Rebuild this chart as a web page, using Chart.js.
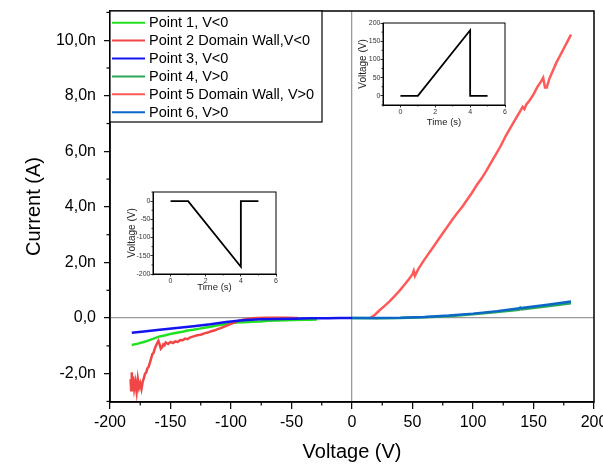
<!DOCTYPE html>
<html>
<head>
<meta charset="utf-8">
<script src="https://cdn.jsdelivr.net/npm/chart.js@4"></script>
<style>
html, body { margin:0; padding:0; background:#fff; overflow:hidden; width:603px; height:468px; }
#wrap { position:relative; width:603px; height:468px; overflow:hidden; }
canvas { position:absolute; }
#main { left:0; top:0; }
#insetUp { left:354px; top:15px; }
#insetDown { left:124px; top:184px; }
</style>
</head>
<body>
<div id="wrap">
  <canvas id="main" width="620" height="468"></canvas>
  <canvas id="insetUp" width="160" height="120"></canvas>
  <canvas id="insetDown" width="160" height="120"></canvas>
</div>
<script>
// values, current in nA
const p1Voltage = [-182, -177, -172, -168, -164, -159, -154, -150, -145, -140, -136, -131, -126, -122, -117, -112, -108, -104, -100, -95, -90, -83, -76, -69, -62, -55, -48, -40, -34, -29];
const p1Current = [-0.97, -0.92, -0.86, -0.80, -0.74, -0.66, -0.62, -0.57, -0.53, -0.49, -0.45, -0.42, -0.38, -0.35, -0.31, -0.27, -0.24, -0.21, -0.18, -0.16, -0.15, -0.13, -0.12, -0.10, -0.09, -0.08, -0.07, -0.06, -0.06, -0.05];

const p2Voltage = [-183, -182.5, -182, -181.5, -181, -180, -179, -178, -177, -176, -175, -174, -173, -172, -171, -170, -169, -168, -167, -166, -165, -164, -163, -162, -161, -160, -159, -158, -157, -156, -155, -154, -152, -150, -148, -146, -144, -142, -140, -138, -136, -134, -131, -128, -125, -122, -119, -117, -114, -111, -108, -104, -100, -97, -94, -90, -86, -82, -78, -72, -66, -60, -54, -48, -45];
const p2Current = [-2.2, -2.6, -1.95, -2.45, -2.1, -2.55, -2.3, -2.65, -2.2, -2.5, -2.35, -2.55, -2.3, -2.15, -2.0, -1.95, -1.8, -1.75, -1.6, -1.45, -1.3, -1.25, -1.1, -1.0, -0.9, -0.82, -0.95, -1.1, -1.05, -0.95, -0.98, -0.88, -0.93, -0.86, -0.9, -0.84, -0.86, -0.79, -0.8, -0.74, -0.76, -0.7, -0.66, -0.62, -0.6, -0.55, -0.52, -0.48, -0.45, -0.4, -0.35, -0.28, -0.21, -0.15, -0.1, -0.06, -0.03, -0.01, 0.0, 0.01, 0.01, 0.01, 0.01, 0.0, 0.0];

const p3Voltage = [-182, -172, -159, -145, -131, -117, -104, -90, -76, -62, -48, -34, -20, -10, 0];
const p3Current = [-0.53, -0.48, -0.42, -0.36, -0.29, -0.22, -0.14, -0.08, -0.04, -0.03, -0.02, -0.01, -0.01, 0.0, 0.0];

const p4Voltage = [0, 20, 40, 60, 80, 100, 120, 138, 139, 140, 160, 181];
const p4Current = [0.0, -0.01, 0.0, 0.03, 0.07, 0.14, 0.22, 0.3, 0.37, 0.31, 0.42, 0.53];

const p5Voltage = [15, 19, 23, 27, 31, 35, 39, 43, 47, 50, 51, 52, 55, 59, 63, 67, 71, 75, 79, 83, 87, 91, 95, 99, 103, 107, 111, 115, 119, 123, 127, 131, 135, 139, 141, 142.5, 144, 147, 150, 153, 156, 158, 159.5, 161, 163, 166, 169, 172, 175, 178, 181];
const p5Current = [0.0, 0.12, 0.29, 0.44, 0.6, 0.78, 0.97, 1.18, 1.4, 1.58, 1.7, 1.52, 1.78, 2.05, 2.3, 2.55, 2.8, 3.05, 3.3, 3.55, 3.78, 4.0, 4.25, 4.5, 4.78, 5.02, 5.3, 5.6, 5.9, 6.2, 6.55, 6.85, 7.15, 7.45, 7.6, 7.52, 7.68, 7.85, 8.05, 8.3, 8.5, 8.65, 8.3, 8.3, 8.6, 8.9, 9.2, 9.45, 9.7, 9.95, 10.2];

const p6Voltage = [0, 20, 40, 60, 80, 100, 120, 140, 160, 181];
const p6Current = [0.0, 0.0, 0.01, 0.04, 0.09, 0.16, 0.25, 0.36, 0.47, 0.6];

const seriesLabels = ['Point 1, V<0', 'Point 2 Domain Wall,V<0', 'Point 3, V<0', 'Point 4, V>0', 'Point 5 Domain Wall, V>0', 'Point 6, V>0'];
const seriesColors = ['#22e022', '#f04646', '#1414f0', '#2ca85a', '#ff5a5a', '#0a66c8'];

const xMajorTicks = [-200, -150, -100, -50, 0, 50, 100, 150, 200];
const xMinorTicks = [-175, -125, -75, -25, 25, 75, 125, 175];
const yMajorTicks = [-2, 0, 2, 4, 6, 8, 10];
const yMinorTicks = [-3, -1, 1, 3, 5, 7, 9, 11];

// inset pulse shapes
const pulseTime = [0, 1, 4, 4, 5];
const pulseVoltsUp = [0, 0, 180, 0, 0];
const pulseVoltsDown = [0, 0, -180, 0, 0];
const insetTimeTicks = [0, 2, 4, 6];
const insetTimeMinor = [-1, 1, 3, 5];
const insetUpTicks = [0, 50, 100, 150, 200];
const insetUpMinor = [-25, 25, 75, 125, 175];
const insetDownTicks = [-200, -150, -100, -50, 0];
const insetDownMinor = [-175, -125, -75, -25, 25];

const FONT = "'Liberation Sans', Arial, sans-serif";
Chart.defaults.color = '#000';
Chart.defaults.font.family = FONT;

function toPoints(xs, ys) {
    return xs.map(function (x, i) { return { x: x, y: ys[i] }; });
}

function fmtCurrent(v) {
    if (v === 0) return '0,0';
    return v.toFixed(1).replace('.', ',') + 'n';
}

// box around the plot area
const frameBox = {
    id: 'frameBox',
    afterDatasetsDraw(chart, args, opts) {
        const a = chart.chartArea;
        const ctx = chart.ctx;
        ctx.save();
        ctx.strokeStyle = '#000';
        ctx.lineWidth = opts.width || 1.5;
        ctx.strokeRect(a.left, a.top, a.right - a.left, a.bottom - a.top);
        ctx.restore();
    }
};

// short ticks between the labelled ones
const minorTicks = {
    id: 'minorTicks',
    afterDraw(chart, args, opts) {
        const ctx = chart.ctx;
        ctx.save();
        ctx.strokeStyle = '#000';
        ctx.lineWidth = opts.width || 1;
        (opts.axes || []).forEach(function (ax) {
            const s = chart.scales[ax.id];
            ax.values.forEach(function (v) {
                const p = s.getPixelForValue(v);
                ctx.beginPath();
                if (s.isHorizontal()) {
                    ctx.moveTo(p, s.top);
                    ctx.lineTo(p, s.top + ax.len);
                } else {
                    ctx.moveTo(s.right, p);
                    ctx.lineTo(s.right - ax.len, p);
                }
                ctx.stroke();
            });
        });
        ctx.restore();
    }
};

// boxed legend in the top left corner of the plot
const boxLegend = {
    id: 'boxLegend',
    afterDraw(chart, args, opts) {
        if (!opts.show) return;
        const a = chart.chartArea;
        const ctx = chart.ctx;
        ctx.save();
        ctx.strokeStyle = '#000';
        ctx.lineWidth = 1.2;
        ctx.fillStyle = '#fff';
        ctx.fillRect(a.left, a.top, 212, 111);
        ctx.strokeRect(a.left, a.top, 212, 111);
        ctx.font = '14.5px ' + FONT;
        ctx.textBaseline = 'middle';
        ctx.textAlign = 'left';
        chart.data.datasets.forEach(function (ds, i) {
            const y = a.top + 11.7 + i * 17.9;
            ctx.strokeStyle = ds.borderColor;
            ctx.lineWidth = 2;
            ctx.beginPath();
            ctx.moveTo(a.left + 2, y);
            ctx.lineTo(a.left + 35, y);
            ctx.stroke();
            ctx.fillStyle = '#000';
            ctx.fillText(ds.label, a.left + 39, y + 0.5);
        });
        ctx.restore();
    }
};

const seriesData = [
    toPoints(p1Voltage, p1Current),
    toPoints(p2Voltage, p2Current),
    toPoints(p3Voltage, p3Current),
    toPoints(p4Voltage, p4Current),
    toPoints(p5Voltage, p5Current),
    toPoints(p6Voltage, p6Current)
];
const drawOrder = [3, 2, 0, 4, 2, 1];

const datasets = seriesData.map(function (pts, i) {
    return {
        label: seriesLabels[i],
        data: pts,
        showLine: true,
        borderColor: seriesColors[i],
        backgroundColor: seriesColors[i],
        borderWidth: 2.5,
        pointRadius: 0,
        order: drawOrder[i]
    };
});

new Chart(document.getElementById('main'), {
    type: 'scatter',
    data: { datasets: datasets },
    options: {
        responsive: false,
        animation: false,
        events: [],
        layout: { padding: { left: 18, top: 11, right: 26, bottom: 0 } },
        plugins: {
            legend: { display: false },
            tooltip: { enabled: false },
            frameBox: { width: 1.5 },
            boxLegend: { show: true },
            minorTicks: {
                width: 1.2,
                axes: [
                    { id: 'x', values: xMinorTicks, len: 3.5 },
                    { id: 'y', values: yMinorTicks, len: 3.5 }
                ]
            }
        },
        scales: {
            x: {
                type: 'linear',
                min: -200,
                max: 200,
                afterBuildTicks: function (s) { s.ticks = xMajorTicks.map(function (v) { return { value: v }; }); },
                afterFit: function (s) { s.height = 66; },
                ticks: {
                    font: { size: 16 },
                    color: '#000',
                    padding: 4,
                    maxRotation: 0,
                    autoSkip: false,
                    callback: function (v) { return String(v); }
                },
                grid: {
                    color: function (c) { return c.tick && c.tick.value === 0 ? '#9a9a9a' : 'rgba(0,0,0,0)'; },
                    lineWidth: 1.3,
                    tickLength: 7,
                    tickColor: '#000',
                    tickWidth: 1.2
                },
                border: { color: '#000', width: 1.5 },
                title: { display: true, text: 'Voltage (V)', font: { size: 20 }, color: '#000', padding: { top: 4, bottom: 4 } }
            },
            y: {
                type: 'linear',
                min: -3.02,
                max: 11.05,
                afterBuildTicks: function (s) { s.ticks = yMajorTicks.map(function (v) { return { value: v }; }); },
                afterFit: function (s) { s.width = 92; s.paddingTop = 0; s.paddingBottom = 0; },
                ticks: {
                    font: { size: 16 },
                    color: '#000',
                    padding: 8,
                    autoSkip: false,
                    callback: function (v) { return fmtCurrent(v); }
                },
                grid: {
                    color: function (c) { return c.tick && c.tick.value === 0 ? '#9a9a9a' : 'rgba(0,0,0,0)'; },
                    lineWidth: 1.3,
                    tickLength: 6,
                    tickColor: '#000',
                    tickWidth: 1.2
                },
                border: { color: '#000', width: 1.5 },
                title: { display: true, text: 'Current (A)', font: { size: 20 }, color: '#000', padding: { top: 4, bottom: 4 } }
            }
        }
    },
    plugins: [frameBox, minorTicks, boxLegend]
});

function makeInset(id, times, volts, yMin, yMax, yTicks, yMinor, pad) {
    return new Chart(document.getElementById(id), {
        type: 'scatter',
        data: {
            datasets: [{
                data: toPoints(times, volts),
                showLine: true,
                borderColor: '#000',
                borderWidth: 1.8,
                pointRadius: 0
            }]
        },
        options: {
            responsive: false,
            animation: false,
            events: [],
            layout: { padding: { left: 0, top: 8, right: pad.right, bottom: 0 } },
            plugins: {
                legend: { display: false },
                tooltip: { enabled: false },
                frameBox: { width: 1 },
                boxLegend: { show: false },
                minorTicks: {
                    width: 0.8,
                    axes: [
                        { id: 'x', values: insetTimeMinor, len: 1.5 },
                        { id: 'y', values: yMinor, len: 1.5 }
                    ]
                }
            },
            scales: {
                x: {
                    type: 'linear',
                    min: -1,
                    max: 6,
                    afterBuildTicks: function (s) { s.ticks = insetTimeTicks.map(function (v) { return { value: v }; }); },
                    afterFit: function (s) { s.height = 30; },
                    ticks: { font: { size: 7 }, color: '#333', padding: 0, maxRotation: 0, autoSkip: false },
                    grid: { display: true, drawOnChartArea: false, tickLength: 2.5, tickColor: '#000', tickWidth: 0.8 },
                    border: { color: '#000', width: 1 },
                    title: { display: true, text: 'Time (s)', font: { size: 9.5 }, color: '#222', padding: { top: 0, bottom: pad.xTitle } }
                },
                y: {
                    type: 'linear',
                    min: yMin,
                    max: yMax,
                    afterBuildTicks: function (s) { s.ticks = yTicks.map(function (v) { return { value: v }; }); },
                    afterFit: function (s) { s.width = 29; s.paddingTop = 0; s.paddingBottom = 0; },
                    ticks: { font: { size: 7 }, color: '#333', padding: 0, autoSkip: false },
                    grid: { display: true, drawOnChartArea: false, tickLength: 2.5, tickColor: '#000', tickWidth: 0.8 },
                    border: { color: '#000', width: 1 },
                    title: { display: true, text: 'Voltage (V)', font: { size: 10 }, color: '#222', padding: { top: pad.yTitle, bottom: 0 } }
                }
            }
        },
        plugins: [frameBox, minorTicks]
    });
}

makeInset('insetUp', pulseTime, pulseVoltsUp, -25, 200, insetUpTicks, insetUpMinor, { right: 9, xTitle: 7, yTitle: 3.6 });
makeInset('insetDown', pulseTime, pulseVoltsDown, -200, 25, insetDownTicks, insetDownMinor, { right: 8, xTitle: 11, yTitle: 2 });
</script>
</body>
</html>
